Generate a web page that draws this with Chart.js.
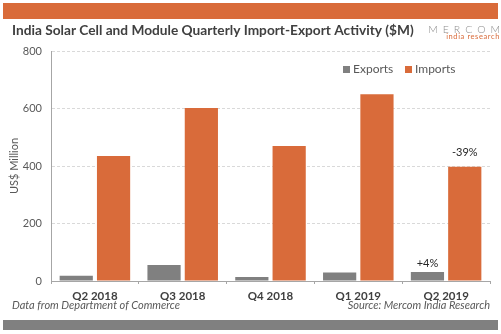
<!DOCTYPE html>
<html>
<head>
<meta charset="utf-8">
<script src="https://cdn.jsdelivr.net/npm/chart.js@4"></script>
<style>
  html, body { margin: 0; padding: 0; background: #fff; }
  #wrap { width: 501px; height: 334px; position: relative; }
</style>
</head>
<body>
<div id="wrap"><canvas id="tradeChart"></canvas></div>
<script>
const quarters = ["Q2 2018", "Q3 2018", "Q4 2018", "Q1 2019", "Q2 2019"];
const exportsM = [18, 56, 14, 30, 31];
const importsM = [435, 602, 470, 650, 397];
const yTicks = [0, 200, 400, 600, 800];
// labels over the last quarter's bars
const changeNotes = { exports: "+4%", imports: "-39%" };

const ORANGE = "#d96b3a";
const GRAY = "#808080";
const TXT = "#595959";
const FONT = "Lato";

// bands, title, logo, footer, legend and the % notes
const decor = {
    id: "decor",
    afterDraw(chart) {
        const c = chart.ctx;
        const W = chart.width;
        c.save();
        c.fillStyle = ORANGE;
        c.fillRect(3, 3, W - 6, 16);
        c.fillStyle = GRAY;
        c.fillRect(3, 320, W - 6, 10);

        c.textBaseline = "middle";
        c.fillStyle = "#404040";
        c.font = "bold 13.7px " + FONT;
        c.textAlign = "left";
        c.fillText("India Solar Cell and Module Quarterly Import-Export Activity ($M)", 12, 31);

        // logo
        c.fillStyle = "#8c8c8c";
        c.font = "300 10.5px " + FONT;
        c.letterSpacing = "5px";
        c.textAlign = "right";
        c.fillText("MERCOM", 505, 30);
        c.letterSpacing = "0.6px";
        c.fillStyle = ORANGE;
        c.font = "7.5px " + FONT;
        c.fillText("india research", 500, 37);
        c.letterSpacing = "0px";

        // footer
        c.fillStyle = TXT;
        c.font = "italic 11px " + FONT;
        c.textAlign = "left";
        c.fillText("Data from Department of Commerce", 12, 305);
        c.textAlign = "right";
        c.fillText("Source: Mercom India Research", 490, 305);

        // legend
        c.font = "12px " + FONT;
        c.textAlign = "left";
        let lx = 343;
        chart.data.datasets.forEach((ds) => {
            c.fillStyle = ds.backgroundColor;
            c.fillRect(lx, 66, 7, 7);
            c.fillStyle = TXT;
            c.fillText(ds.label, lx + 10, 69);
            lx += 62;
        });

        // % change notes, placed from the bars themselves
        const last = quarters.length - 1;
        c.fillStyle = "#262626";
        c.font = "11px " + FONT;
        c.textAlign = "center";
        const eBar = chart.getDatasetMeta(0).data[last];
        const iBar = chart.getDatasetMeta(1).data[last];
        c.fillText(changeNotes.exports, eBar.x, eBar.y - 9);
        c.fillText(changeNotes.imports, iBar.x, iBar.y - 14);
        c.restore();
    },
};

new Chart(document.getElementById("tradeChart"), {
    type: "bar",
    data: {
        labels: quarters,
        datasets: [
            { label: "Exports", data: exportsM, backgroundColor: GRAY },
            { label: "Imports", data: importsM, backgroundColor: ORANGE },
        ],
    },
    options: {
        responsive: true,
        maintainAspectRatio: false,
        animation: false,
        devicePixelRatio: 1,
        layout: { padding: { left: 0, right: 11, top: 51, bottom: 33 } },
        datasets: { bar: { categoryPercentage: 0.85, barPercentage: 0.89 } },
        plugins: {
            legend: { display: false },
            tooltip: { enabled: false },
        },
        scales: {
            x: {
                grid: { drawOnChartArea: false, drawTicks: true, tickLength: 3, color: "#a6a6a6" },
                border: { color: "#a6a6a6", width: 1 },
                ticks: { color: "#404040", padding: 5, font: { family: FONT, size: 11.5, weight: "bold" } },
                afterFit(s) { s.height = 20; },
            },
            y: {
                min: yTicks[0],
                max: yTicks[yTicks.length - 1],
                afterBuildTicks(s) { s.ticks = yTicks.map((v) => ({ value: v })); },
                grid: { color: "#d9d9d9", drawTicks: false },
                border: { color: "#a6a6a6", width: 1, dash: [3, 2] },
                ticks: { color: TXT, padding: 9, font: { family: FONT, size: 11 } },
                title: {
                    display: true,
                    text: "US$ Million",
                    color: TXT,
                    font: { family: FONT, size: 11 },
                    padding: { top: 8, bottom: 0 },
                },
                afterFit(s) { s.width = 51; },
            },
        },
    },
    plugins: [decor],
});
</script>
</body>
</html>
